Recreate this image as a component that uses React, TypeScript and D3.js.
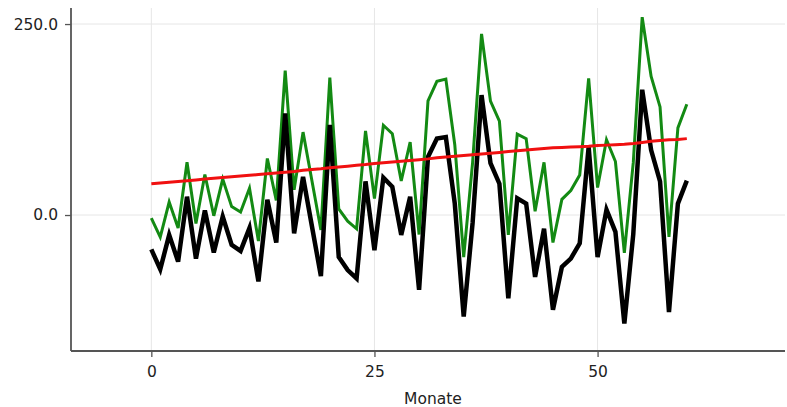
import React, { useEffect, useRef } from 'react';
import * as d3 from 'd3';

// months 0..60
const months = d3.range(0, 61);

// observed values (black)
const actual = [
  -45, -71, -26, -61, 24, -57, 6, -49, -2, -39, -47, -17, -87, 20, -36,
  133, -24, 50, -15, -80, 118, -55, -72, -83, 44, -46, 49, 37, -26, 24,
  -98, 76, 100, 102, 15, -133, -10, 157, 68, 41, -109, 22, 15, -81, -18,
  -124, -68, -57, -37, 89, -55, 7, -22, -142, -25, 164, 85, 44, -127, 15, 45,
];

// trend (red)
const trend = [
  41, 42, 43, 44, 45, 46, 47, 48, 49, 50, 51, 52, 53, 54, 55,
  56, 57, 58.5, 59.5, 60.5, 62, 63, 64, 65, 66, 67.5, 68.5, 69.5, 70.5, 71.5,
  72.5, 73.5, 75, 76, 77, 78, 79, 80, 81, 82, 83, 84, 85, 86, 87,
  88, 88.5, 89, 89.5, 90, 91, 91.5, 92, 92.5, 93.5, 95, 96.5, 97.5, 98.5, 99, 100,
];

// observed + trend (green)
const combined = [
  -4, -29, 17, -17, 69, -11, 53, -1, 47, 11, 4, 35, -34, 74, 19,
  189, 33, 108.5, 44.5, -19.5, 180, 8, -8, -18, 110, 21.5, 117.5, 106.5, 44.5, 95.5,
  -25.5, 149.5, 175, 178, 92, -55, 69, 237, 149, 123, -26, 106, 100, 5, 69,
  -36, 20.5, 32, 52.5, 179, 36, 98.5, 70, -49.5, 68.5, 259, 181.5, 141.5, -28.5, 114, 145,
];

const xTicks = [0, 25, 50];
const yTicks = [0, 250];

const WIDTH = 787;
const HEIGHT = 407;

const App = () => {
  const svgRef = useRef<SVGSVGElement>(null);

  useEffect(() => {
    const svg = d3.select(svgRef.current);
    svg.selectAll('*').remove();

    const font = '"DejaVu Sans", sans-serif';
    const left = 71, right = 785, top = 8, bottom = 351;

    const x = d3.scaleLinear().domain([-9, 71]).range([left, right]);
    const y = d3.scaleLinear().domain([-178, 271]).range([bottom, top]);

    // grid
    svg.append('g')
      .selectAll('line.vgrid')
      .data(xTicks)
      .join('line')
      .attr('x1', d => x(d)).attr('x2', d => x(d))
      .attr('y1', top).attr('y2', bottom)
      .attr('stroke', '#e6e6e6').attr('stroke-width', 1);
    svg.append('g')
      .selectAll('line.hgrid')
      .data(yTicks)
      .join('line')
      .attr('x1', left).attr('x2', right)
      .attr('y1', d => y(d)).attr('y2', d => y(d))
      .attr('stroke', '#e6e6e6').attr('stroke-width', 1);

    // series
    const line = (vals: number[]) =>
      d3.line<number>()
        .x((d, i) => x(months[i]))
        .y(d => y(d))(vals);

    svg.append('path')
      .attr('d', line(combined))
      .attr('fill', 'none')
      .attr('stroke', '#138a13')
      .attr('stroke-width', 3)
      .attr('stroke-linejoin', 'miter');

    svg.append('path')
      .attr('d', line(actual))
      .attr('fill', 'none')
      .attr('stroke', '#000')
      .attr('stroke-width', 4.5);

    svg.append('path')
      .attr('d', line(trend))
      .attr('fill', 'none')
      .attr('stroke', '#f01010')
      .attr('stroke-width', 3);

    // x axis
    const xAxis = svg.append('g')
      .attr('transform', `translate(0,${bottom})`)
      .call(d3.axisBottom(x).tickValues(xTicks).tickSize(6).tickPadding(9).tickFormat(d3.format('d')));
    xAxis.select('.domain').attr('stroke', '#555').attr('stroke-width', 1.8).attr('d', `M${left},0H${right}`);
    xAxis.selectAll('.tick line').attr('stroke', '#555').attr('stroke-width', 1.3);
    xAxis.selectAll('.tick text')
      .attr('fill', '#222').style('font-family', font).style('font-size', '15.5px');

    // y axis
    const yAxis = svg.append('g')
      .attr('transform', `translate(${left},0)`)
      .call(d3.axisLeft(y).tickValues(yTicks).tickSize(6).tickPadding(7).tickFormat(d3.format('.1f')));
    yAxis.select('.domain').attr('stroke', '#555').attr('stroke-width', 1.8).attr('d', `M0,${top}V${bottom}`);
    yAxis.selectAll('.tick line').attr('stroke', '#555').attr('stroke-width', 1.3);
    yAxis.selectAll('.tick text')
      .attr('fill', '#222').style('font-family', font).style('font-size', '15.5px');

    // axis label
    svg.append('text')
      .attr('x', 433)
      .attr('y', 404)
      .attr('text-anchor', 'middle')
      .attr('fill', '#222')
      .style('font-family', font)
      .style('font-size', '15.5px')
      .text('Monate');
  }, []);

  return (
    <svg
      ref={svgRef}
      width={WIDTH}
      height={HEIGHT}
      style={{ position: 'absolute', left: 0, top: 0, background: '#fff' }}
    />
  );
};

export default App;
